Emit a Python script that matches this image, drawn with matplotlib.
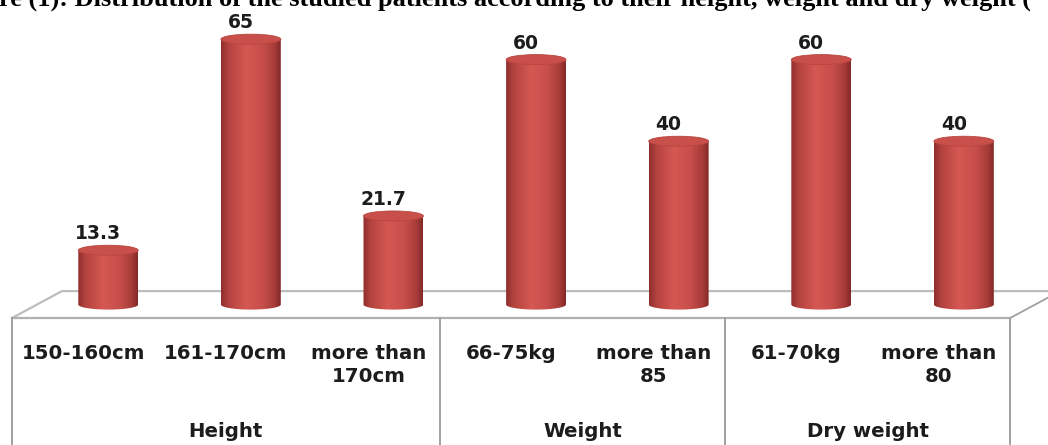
import numpy as np
import matplotlib.pyplot as plt
from matplotlib.colors import LinearSegmentedColormap
from matplotlib.patches import Ellipse, PathPatch
from matplotlib.path import Path

groups = ["Height", "Weight", "Dry weight"]
group_sizes = [3, 2, 2]
categories = ["150-160cm", "161-170cm", "more than\n170cm",
              "66-75kg", "more than\n85",
              "61-70kg", "more than\n80"]
values = [13.3, 65, 21.7, 60, 40, 60, 40]
value_labels = ["13.3", "65", "21.7", "60", "40", "60", "40"]

title = ("re (1): Distribution of the studied patients according to "
         "their height, weight and dry weight (")

fig = plt.figure(figsize=(10.48, 4.45), dpi=100)
ax = fig.add_axes([0, 0, 1, 1])
ax.set_xlim(-0.084, 7.265)
ax.set_ylim(-34.4, 74.6)
ax.axis("off")

n = len(values)
depth = 0.35    # floor depth, in category units along x
half = 3.3      # floor half depth, in value units along y
bar_w = 0.42
cap = 1.23      # half height of the cylinder ellipses
edge = "#a0a0a0"
txt = "#1c1c1c"

# floor of the 3d plot
ax.plot([0, depth, n + depth], [-half, half, half], color="#bdbdbd", lw=1.6, zorder=1)
ax.plot([n, n + depth], [-half, half], color=edge, lw=1.3, zorder=1)
ax.plot([0, n], [-half, -half], color="#b0b0b0", lw=1.6, zorder=1)

# category axis box with group dividers
bounds = np.concatenate([[0], np.cumsum(group_sizes)])
for b in bounds:
    ax.plot([b, b], [-half, -40], color=edge, lw=1.4, zorder=1)

cyl_cmap = LinearSegmentedColormap.from_list(
    "cyl", [(0.0, "#8e2e2c"), (0.12, "#b3423f"), (0.42, "#d65852"),
            (0.7, "#c64e4a"), (0.9, "#a63b38"), (1.0, "#822826")])
grad = np.linspace(0, 1, 256).reshape(1, -1)

for i, v in enumerate(values):
    cx = i + 0.5 + depth / 2
    L, R = cx - bar_w / 2, cx + bar_w / 2
    t = np.linspace(np.pi, 2 * np.pi, 60)
    verts = [(L, v), (L, 0)] + list(zip(cx + bar_w / 2 * np.cos(t), cap * np.sin(t))) + [(R, v), (L, v)]
    body = PathPatch(Path(verts), facecolor="none", edgecolor="none")
    ax.add_patch(body)
    im = ax.imshow(grad, extent=[L, R, -cap, v], cmap=cyl_cmap, aspect="auto",
                   interpolation="bicubic", zorder=3)
    im.set_clip_path(body)
    ax.add_patch(Ellipse((cx, v), bar_w, 2 * cap, facecolor="#c94f4b",
                         edgecolor="#b8463f", lw=0.6, zorder=4))
    ax.annotate(value_labels[i], (cx - 0.07, v + cap), xytext=(0, 6),
                textcoords="offset pixels", ha="center", va="baseline",
                fontsize=13.5, fontweight="bold", color=txt)

for i, lab in enumerate(categories):
    ax.text(i + 0.5, -9.6, lab, ha="center", va="top", fontsize=14.2,
            fontweight="bold", color=txt, linespacing=1.25)

for g, lo, hi in zip(groups, bounds[:-1], bounds[1:]):
    ax.text((lo + hi) / 2, -32.5, g, ha="center", va="baseline",
            fontsize=14.2, fontweight="bold", color=txt)

fig.text(-0.001, 1 - 6 / 445, title, ha="left", va="baseline",
         fontsize=19, fontweight="bold", family="Liberation Serif", color="black")

fig.savefig("out.png", dpi=100)
